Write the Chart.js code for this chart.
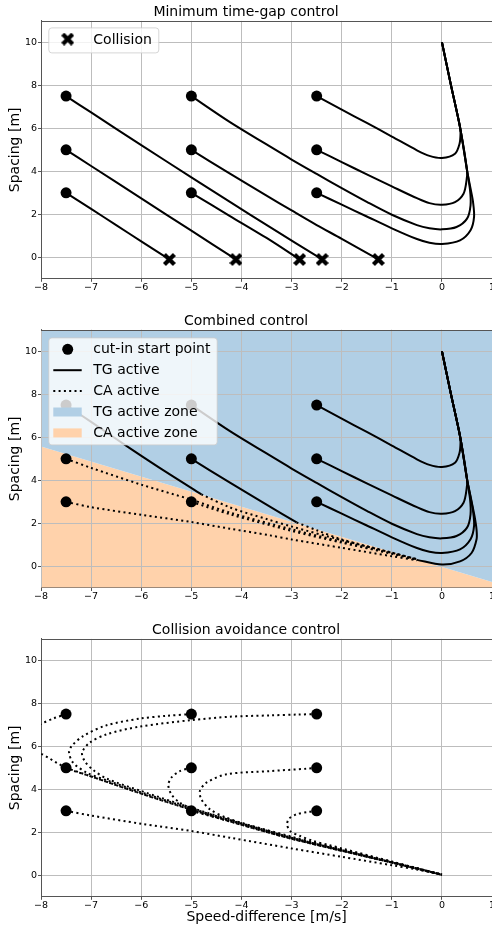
<!DOCTYPE html>
<html><head><meta charset="utf-8">
<script src="https://cdn.jsdelivr.net/npm/chart.js@4/dist/chart.umd.min.js"></script>
<style>
html,body{margin:0;padding:0;background:#fff;width:492px;height:926px;overflow:hidden;position:relative;}
canvas{position:absolute;left:0;}
</style></head><body>
<canvas id="c1" width="540" height="306" style="top:0px;width:540px;height:306px"></canvas>
<canvas id="c2" width="540" height="306" style="top:309px;width:540px;height:306px"></canvas>
<canvas id="c3" width="540" height="308" style="top:618px;width:540px;height:308px"></canvas>
<script>
// ---------------- data ----------------
const xTicks = [-8, -7, -6, -5, -4, -3, -2, -1, 0, 1];
const yTicks = [0, 2, 4, 6, 8, 10];
const startV = [-7.5, -7.5, -7.5, -5, -5, -5, -2.5, -2.5, -2.5];
const startS = [7.5, 5, 3, 7.5, 5, 3, 7.5, 5, 3];
const collisionV = [-5.44, -4.11, -2.84, -2.39, -1.27];
const collisionS = [-0.1, -0.1, -0.1, -0.1, -0.1];
const zoneV = [-8, 1];
const zoneS = [5.58, -0.73];

// time-gap control trajectories [speed-difference, spacing]
const tg_75_3 = [[-7.5,3],[-7,2.25],[-6.5,1.5],[-6,0.74],[-5.44,-0.1]];
const tg_75_5 = [[-7.5,5],[-7,4.25],[-6,2.74],[-5,1.24],[-4.11,-0.1]];
const tg_75_75 = [[-7.5,7.5],[-7,6.74],[-6,5.22],[-5,3.72],[-4.23,2.58],[-3.43,1.4],[-2.39,-0.1]];
const tg_5_3 = [[-5,3],[-4.23,1.92],[-3.5,0.9],[-2.84,-0.1]];
const tg_5_5 = [[-5,5],[-4.23,3.89],[-3.5,2.87],[-3,2.18],[-2.5,1.5],[-2,0.86],[-1.27,-0.1]];
const tg_5_75 = [[-5,7.5],[-4.23,6.29],[-3.5,5.25],[-3,4.55],[-2.5,3.88],[-2,3.22],[-1.5,2.58],[-1,1.98],[-0.5,1.5],[-0.25,1.35],[0,1.3],[0.29,1.41],[0.5,1.8],[0.57,2.42],[0.56,3.12],[0.5,4.05],[0.36,6.06],[0.18,8.0],[0,10]];
const tg_25_75 = [[-2.5,7.5],[-2,6.87],[-1.5,6.25],[-1,5.62],[-0.5,4.98],[-0.25,4.72],[0,4.62],[0.26,4.82],[0.35,5.28],[0.37,5.75],[0.36,6.06],[0.18,8.0],[0,10]];
const tg_25_5 = [[-2.5,5],[-2,4.43],[-1.5,3.86],[-1,3.3],[-0.5,2.75],[-0.25,2.52],[0,2.45],[0.26,2.57],[0.43,2.96],[0.49,3.58],[0.5,4.05],[0.36,6.06],[0.18,8.0],[0,10]];
const tg_25_3 = [[-2.5,3],[-2,2.45],[-1.5,1.9],[-1,1.35],[-0.5,0.85],[-0.25,0.68],[0,0.62],[0.36,0.79],[0.57,1.26],[0.64,1.88],[0.62,2.57],[0.57,3.2],[0.5,4.05],[0.36,6.06],[0.18,8.0],[0,10]];

// combined control pieces
const cb_75_75_tg = [[-7.5,7.5],[-7,6.72],[-6.23,5.5],[-5.5,4.38],[-4.8,3.35]];
const cb_75_75_ca = [[-4.8,3.35],[-4.23,2.74],[-3.5,2.2],[-3,1.85],[-2,1.22],[-1,0.63],[-0.5,0.33]];
const cb_75_5_ca = [[-7.5,5],[-7,4.58],[-6,3.8],[-5,3.1],[-4.23,2.5],[-3,1.72],[-2,1.15],[-1,0.6],[-0.5,0.31]];
const cb_5_3_ca = [[-5,3],[-4.23,2.42],[-3,1.65],[-2,1.1],[-1,0.58],[-0.5,0.3]];
const cb_5_5_tg = [[-5,5],[-4.23,3.89],[-3.5,2.87],[-2.9,2.04]];
const cb_5_5_ca = [[-2.9,2.04],[-2.5,1.68],[-2,1.25],[-1,0.64],[-0.5,0.33]];
const cb_75_3_ca = [[-7.5,3],[-7,2.75],[-6,2.4],[-5,2.06],[-4.23,1.75],[-3.43,1.44],[-3,1.25],[-2,0.86],[-1,0.47],[-0.5,0.28]];
const cb_final_tg = [[-0.5,0.3],[0,0.08],[0.36,0.23],[0.59,0.62],[0.69,1.26],[0.69,1.7],[0.65,2.33],[0.57,3.26],[0.5,4.05],[0.36,6.06],[0.18,8.0],[0,10]];

// collision avoidance control trajectories
const ca_75_75 = [[-7.5,7.5],[-7.75,7.3],[-8.02,7.02],[-8.3,6.6],[-8.4,6.2],[-8.3,5.9],[-8,5.66],[-7.5,5.0],[-7,4.6],[-6,3.8],[-5,3.05],[-4,2.35],[-3,1.7],[-2,1.14],[-1,0.59],[0,0.03]];
const ca_75_5 = [[-7.5,5],[-7,4.6],[-6,3.8],[-5,3.05],[-4,2.35],[-3,1.7],[-2,1.14],[-1,0.59],[0,0.03]];
const ca_75_3 = [[-7.5,3],[-7,2.78],[-6,2.4],[-5,2.06],[-4.23,1.75],[-3,1.25],[-2,0.86],[-1,0.47],[-0.5,0.27],[0,0.03]];
const ca_5_75 = [[-5,7.5],[-5.5,7.42],[-6.03,7.29],[-6.69,6.98],[-7.16,6.48],[-7.39,6.01],[-7.44,5.71],[-7.36,5.24],[-7.09,4.78],[-6.69,4.42],[-6,3.86],[-5,3.1],[-4,2.4],[-3,1.73],[-2,1.16],[-1,0.6],[0,0.03]];
const ca_5_5 = [[-5,5],[-5.23,4.85],[-5.4,4.54],[-5.46,4.2],[-5.4,3.77],[-5.23,3.38],[-5,3.12],[-4.5,2.75],[-4,2.42],[-3,1.75],[-2,1.17],[-1,0.6],[0,0.03]];
const ca_5_3 = [[-5,3],[-4,2.36],[-3,1.71],[-2,1.15],[-1,0.6],[0,0.03]];
const ca_25_75 = [[-2.5,7.5],[-2.87,7.48],[-3.43,7.44],[-4.23,7.38],[-5,7.22],[-6.03,6.92],[-6.69,6.56],[-7.03,6.17],[-7.18,5.71],[-7.13,5.32],[-6.96,4.9],[-6.69,4.5],[-6,3.92],[-5,3.14],[-4,2.43],[-3,1.76],[-2,1.18],[-1,0.61],[0,0.03]];
const ca_25_5 = [[-2.5,5],[-2.7,4.96],[-3.43,4.85],[-4.3,4.7],[-4.7,4.31],[-4.83,3.92],[-4.8,3.53],[-4.63,3.07],[-4.3,2.68],[-3.9,2.37],[-3,1.8],[-2,1.2],[-1,0.62],[0,0.03]];
const ca_25_3 = [[-2.5,3],[-2.67,2.95],[-2.9,2.84],[-3.05,2.64],[-3.09,2.37],[-3.03,2.06],[-2.83,1.83],[-2.57,1.6],[-2.24,1.4],[-2,1.25],[-1,0.64],[0,0.03]];

// ---------------- styling ----------------
const FONT = "'DejaVu Sans', sans-serif";
Chart.defaults.font.family = FONT;
Chart.defaults.color = '#000';
const BLUE = 'rgb(177,207,229)';
const ORANGE = 'rgb(255,210,171)';
const GRID = '#bdbdbd';
const SPINE = '#555';

function makeX(size, thick) {
  const c = document.createElement('canvas');
  c.width = size; c.height = size;
  const g = c.getContext('2d');
  g.strokeStyle = '#000'; g.lineWidth = thick; g.lineCap = 'butt';
  const m = thick * 0.36;
  g.beginPath();
  g.moveTo(m, m); g.lineTo(size - m, size - m);
  g.moveTo(size - m, m); g.lineTo(m, size - m);
  g.stroke();
  return c;
}
const xImg = makeX(13, 4.2);

const pts = arr => arr.map(([x, y]) => ({x, y}));
function line(arr, dotted) {
  return {data: pts(arr), showLine: true, borderColor: '#000', borderWidth: 2,
    pointRadius: 0, pointHoverRadius: 0, tension: 0.3, fill: false,
    borderDash: dotted ? [2, 3.3] : [], borderCapStyle: 'butt', borderJoinStyle: 'round', order: 10};
}
function startMarkers() {
  return {data: startV.map((v, i) => ({x: v, y: startS[i]})), showLine: false,
    pointRadius: 5.5, pointHoverRadius: 5.5, pointBackgroundColor: '#000', pointBorderWidth: 0, order: 0};
}
function collisionMarkers() {
  return {data: collisionV.map((v, i) => ({x: v, y: collisionS[i]})), showLine: false,
    pointStyle: xImg, pointRadius: 6, pointHoverRadius: 6, order: 0};
}
function zone(fillTo, color) {
  return {data: zoneV.map((v, i) => ({x: v, y: zoneS[i]})), showLine: true,
    borderColor: 'rgba(0,0,0,0)', borderWidth: 0, pointRadius: 0, pointHoverRadius: 0,
    fill: fillTo, backgroundColor: color, tension: 0, order: 100, regrid: true};
}
const fmt = v => (v < 0 ? '\u2212' + Math.abs(v) : String(v));

const decorPlugin = {
  id: 'decor',
  afterDatasetDraw(chart, args) {
    const ds = chart.data.datasets[args.index];
    if (ds && ds.regrid) {
      chart.scales.x.drawGrid(chart.chartArea);
      chart.scales.y.drawGrid(chart.chartArea);
    }
  },
  afterDraw(chart, args, opts) {
    const ctx = chart.ctx, a = chart.chartArea;
    ctx.save();
    ctx.strokeStyle = SPINE; ctx.lineWidth = 1;
    ctx.beginPath();
    ctx.moveTo(a.left, Math.round(a.top) + 0.5);
    ctx.lineTo(a.right, Math.round(a.top) + 0.5);
    ctx.stroke();
    if (opts && opts.items) {
      const bx = a.left + opts.dx, by = a.top + opts.dy;
      ctx.beginPath();
      ctx.roundRect(bx + 0.5, by + 0.5, opts.w, opts.h, 3);
      ctx.fillStyle = 'rgba(255,255,255,0.8)';
      ctx.fill();
      ctx.strokeStyle = 'rgba(204,204,204,0.8)';
      ctx.lineWidth = 1;
      ctx.stroke();
      ctx.font = '14px ' + FONT;
      ctx.textBaseline = 'middle';
      ctx.textAlign = 'left';
      opts.items.forEach((it, i) => {
        const cy = by + opts.first + i * opts.step;
        const hx0 = bx + 5, hx1 = bx + 33.4, hc = bx + 19.4;
        ctx.fillStyle = '#000'; ctx.strokeStyle = '#000';
        if (it.type === 'x') {
          ctx.drawImage(xImg, hc - xImg.width / 2, cy - 1 - xImg.height / 2);
        } else if (it.type === 'dot') {
          ctx.beginPath(); ctx.arc(hc, cy, 5.5, 0, Math.PI * 2); ctx.fill();
        } else if (it.type === 'solid' || it.type === 'dotted') {
          ctx.lineWidth = 2; ctx.lineCap = 'butt';
          ctx.setLineDash(it.type === 'dotted' ? [2, 3.3] : []);
          ctx.beginPath(); ctx.moveTo(hx0, cy); ctx.lineTo(hx1, cy); ctx.stroke();
          ctx.setLineDash([]);
        } else if (it.type === 'patch') {
          ctx.fillStyle = it.color;
          ctx.fillRect(hx0, cy - 4.5, hx1 - hx0, 9);
        }
        ctx.fillStyle = '#000';
        ctx.fillText(it.text, bx + 45, cy);
      });
    }
    ctx.restore();
  }
};

function options(cfg) {
  return {
    responsive: false, animation: false, devicePixelRatio: 1,
    events: [],
    layout: {padding: {left: 0, right: 540 - 492.1, top: 0, bottom: 0}},
    plugins: {
      legend: {display: false},
      tooltip: {enabled: false},
      title: {display: true, text: cfg.title, color: '#000',
        font: {family: FONT, size: 14, weight: 'normal', lineHeight: 1.2},
        padding: {top: 4.1, bottom: 0}},
      decor: cfg.legend || {}
    },
    scales: {
      x: {
        type: 'linear', min: -8, max: 1,
        afterBuildTicks: s => { s.ticks = xTicks.map(v => ({value: v})); },
        afterFit: s => { s.height = cfg.xh; },
        grid: {color: GRID, lineWidth: 1, drawTicks: true, tickLength: 3, tickColor: SPINE},
        border: {display: true, color: SPINE, width: 1},
        ticks: {font: {family: FONT, size: 9.5}, color: '#000', padding: 0, maxRotation: 0,
          autoSkip: false, callback: v => fmt(v)},
        title: cfg.xtitle ? {display: true, text: cfg.xtitle, color: '#000',
          font: {family: FONT, size: 14, lineHeight: 1.2}, padding: {top: 0, bottom: 0}} : {display: false}
      },
      y: {
        type: 'linear', min: -1, max: 11,
        afterBuildTicks: s => { s.ticks = yTicks.map(v => ({value: v})); },
        afterFit: s => { s.width = 41; },
        grid: {color: GRID, lineWidth: 1, drawTicks: true, tickLength: 3, tickColor: SPINE},
        border: {display: true, color: SPINE, width: 1},
        ticks: {font: {family: FONT, size: 9.5}, color: '#000', padding: 1, autoSkip: false,
          callback: v => fmt(v)},
        title: {display: true, text: 'Spacing [m]', color: '#000',
          font: {family: FONT, size: 14, lineHeight: 1.2}, padding: {top: 6.7, bottom: 0}}
      }
    }
  };
}

// ---------------- charts ----------------
new Chart(document.getElementById('c1'), {
  type: 'scatter',
  data: {datasets: [
    line(tg_75_3), line(tg_75_5), line(tg_75_75), line(tg_5_3), line(tg_5_5),
    line(tg_5_75), line(tg_25_75), line(tg_25_5), line(tg_25_3),
    startMarkers(), collisionMarkers()
  ]},
  options: options({title: 'Minimum time-gap control', xh: 27.2,
    legend: {dx: 7.3, dy: 6.5, w: 110, h: 25, first: 12.7, step: 20.9,
      items: [{type: 'x', text: 'Collision'}]}}),
  plugins: [decorPlugin]
});

new Chart(document.getElementById('c2'), {
  type: 'scatter',
  data: {datasets: [
    zone('end', BLUE), zone('start', ORANGE),
    line(cb_75_75_tg), line(cb_75_75_ca, true), line(cb_75_5_ca, true), line(cb_5_3_ca, true),
    line(cb_5_5_tg), line(cb_5_5_ca, true), line(cb_75_3_ca, true), line(cb_final_tg),
    line(tg_5_75), line(tg_25_75), line(tg_25_5), line(tg_25_3),
    startMarkers()
  ]},
  options: options({title: 'Combined control', xh: 27.2,
    legend: {dx: 7.3, dy: 7.5, w: 168.4, h: 107, first: 11.9, step: 20.9,
      items: [
        {type: 'dot', text: 'cut-in start point'},
        {type: 'solid', text: 'TG active'},
        {type: 'dotted', text: 'CA active'},
        {type: 'patch', color: BLUE, text: 'TG active zone'},
        {type: 'patch', color: ORANGE, text: 'CA active zone'}
      ]}}),
  plugins: [decorPlugin]
});

new Chart(document.getElementById('c3'), {
  type: 'scatter',
  data: {datasets: [
    line(ca_75_75, true), line(ca_75_5, true), line(ca_75_3, true),
    line(ca_5_75, true), line(ca_5_5, true), line(ca_5_3, true),
    line(ca_25_75, true), line(ca_25_5, true), line(ca_25_3, true),
    startMarkers()
  ]},
  options: options({title: 'Collision avoidance control', xh: 29.2, xtitle: 'Speed-difference [m/s]'}),
  plugins: [decorPlugin]
});
</script>
</body></html>
